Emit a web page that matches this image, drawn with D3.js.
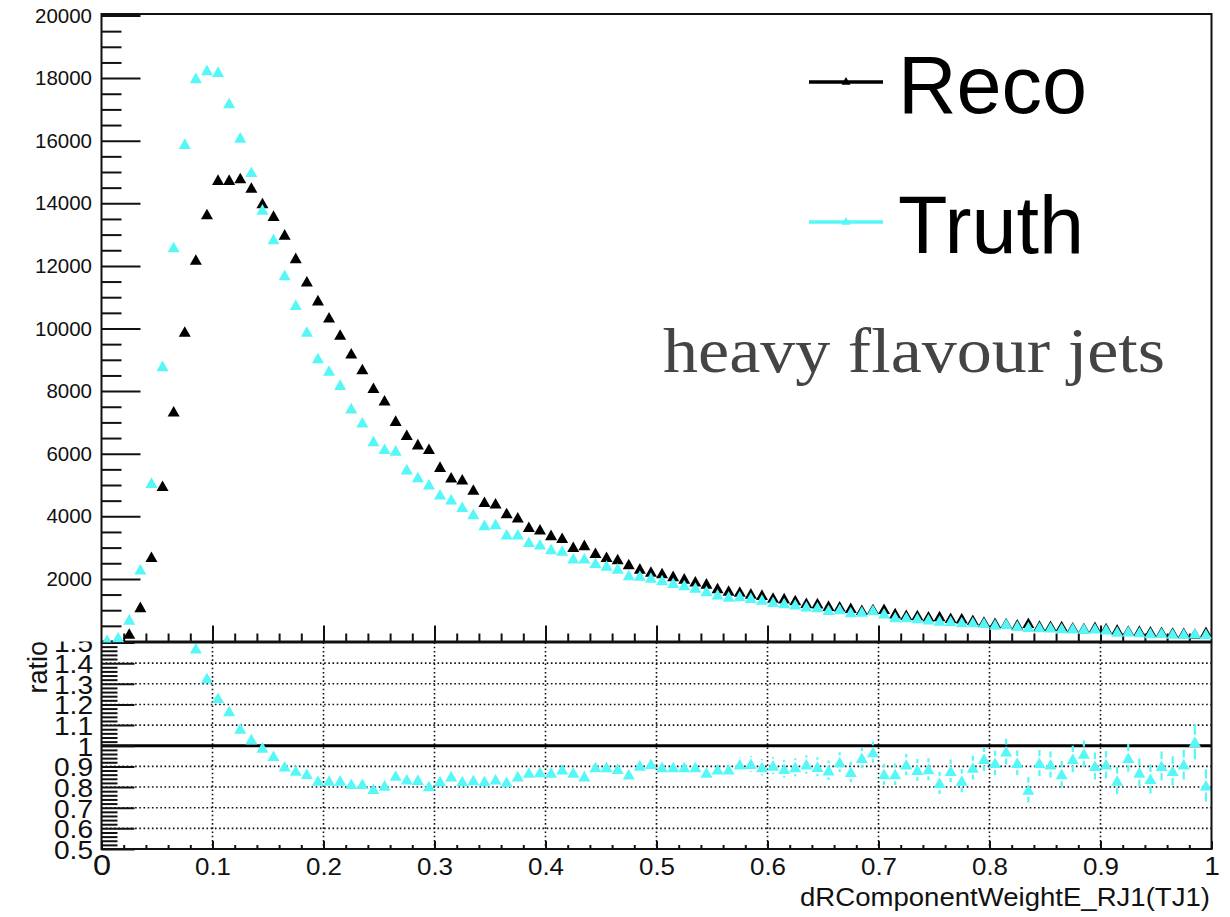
<!DOCTYPE html>
<html>
<head>
<meta charset="utf-8">
<script src="https://cdn.jsdelivr.net/npm/d3@7"></script>
<style>
  body { margin: 0; background: #fff; }
  svg { display: block; }
  .sans { font-family: "Liberation Sans", Arial, Helvetica, sans-serif; }
  .serif { font-family: "Liberation Serif", "Times New Roman", serif; }
</style>
</head>
<body>
<svg id="chart" width="1230" height="917"></svg>
<script>
// Histogram binning of dRComponentWeightE_RJ1(TJ1)
const nBins = 100, xMin = 0, xMax = 1;

// Bin contents, Reco jets
const reco = [
  10, 40, 250, 1100, 2700, 4970, 7350, 9900, 12200, 13650,
  14750, 14750, 14800, 14500, 14000, 13600, 13000, 12250, 11500, 10900,
  10350, 9800, 9200, 8700, 8100, 7700, 7050, 6600, 6300, 6150,
  5580, 5240, 5180, 4850, 4460, 4410, 4100, 3960, 3660, 3580,
  3400, 3310, 3020, 3080, 2830, 2700, 2630, 2470, 2330, 2230,
  2180, 2090, 2010, 1920, 1850, 1700, 1620, 1590, 1530, 1490,
  1400, 1380, 1320, 1230, 1220, 1140, 1120, 1070, 1010, 1030,
  1040, 900, 850, 840, 800, 810, 750, 740, 690, 630,
  590, 580, 540, 590, 500, 495, 490, 450, 425, 460,
  420, 380, 345, 340, 320, 300, 280, 270, 250, 300
];

// Bin contents, Truth jets
const truth = [
  50, 130, 700, 2300, 5070, 8800, 12600, 15900, 18000, 18250,
  18200, 17200, 16100, 15000, 13800, 12850, 11700, 10750, 9900, 9050,
  8650, 8200, 7450, 7000, 6400, 6150, 6100, 5500, 5250, 5020,
  4700, 4540, 4300, 4070, 3720, 3750, 3420, 3420, 3180, 3100,
  2950, 2900, 2650, 2650, 2510, 2420, 2330, 2120, 2100, 2035,
  1960, 1870, 1800, 1720, 1610, 1505, 1435, 1445, 1395, 1335,
  1265, 1225, 1183, 1118, 1095, 1005, 1030, 934, 950, 998,
  896, 776, 773, 742, 709, 664, 659, 615, 617, 590,
  541, 564, 495, 464, 459, 450, 422, 421, 408, 415,
  382, 316, 325, 296, 268, 271, 246, 245, 255, 242
];

// Truth / Reco per bin (first bins lie above the ratio window)
const ratio = [
  5.0, 3.25, 2.8, 2.09, 1.88, 1.77, 1.71, 1.61, 1.471, 1.327,
  1.231, 1.167, 1.083, 1.031, 0.991, 0.951, 0.900, 0.879, 0.863, 0.831,
  0.831, 0.831, 0.815, 0.815, 0.791, 0.807, 0.855, 0.837, 0.835, 0.804,
  0.828, 0.852, 0.828, 0.833, 0.828, 0.837, 0.825, 0.852, 0.869, 0.872,
  0.869, 0.885, 0.869, 0.852, 0.896, 0.896, 0.888, 0.861, 0.904, 0.912,
  0.896, 0.896, 0.896, 0.896, 0.869, 0.885, 0.885, 0.909, 0.912, 0.896,
  0.904, 0.888, 0.896, 0.909, 0.898, 0.881, 0.920, 0.873, 0.941, 0.969,
  0.862, 0.862, 0.909, 0.883, 0.886, 0.820, 0.878, 0.831, 0.894, 0.936,
  0.917, 0.972, 0.917, 0.787, 0.917, 0.909, 0.862, 0.936, 0.961, 0.902,
  0.909, 0.831, 0.941, 0.870, 0.839, 0.902, 0.878, 0.909, 1.019, 0.808
];

// Statistical uncertainty on the ratio
const ratioErr = [
  0.01, 0.01, 0.01, 0.01, 0.01, 0.01, 0.01, 0.01, 0.01, 0.01,
  0.01, 0.01, 0.01, 0.01, 0.01, 0.01, 0.01, 0.01, 0.01, 0.012,
  0.012, 0.012, 0.012, 0.013, 0.013, 0.013, 0.014, 0.014, 0.015, 0.015,
  0.016, 0.016, 0.017, 0.017, 0.018, 0.018, 0.019, 0.019, 0.02, 0.02,
  0.021, 0.021, 0.022, 0.022, 0.023, 0.024, 0.025, 0.026, 0.027, 0.028,
  0.029, 0.03, 0.031, 0.032, 0.033, 0.034, 0.035, 0.036, 0.038, 0.04,
  0.041, 0.042, 0.044, 0.045, 0.046, 0.047, 0.048, 0.049, 0.05, 0.051,
  0.051, 0.052, 0.052, 0.053, 0.053, 0.054, 0.055, 0.056, 0.057, 0.058,
  0.059, 0.062, 0.06, 0.062, 0.063, 0.063, 0.064, 0.064, 0.065, 0.065,
  0.066, 0.066, 0.067, 0.068, 0.07, 0.07, 0.071, 0.072, 0.085, 0.078
];

const seriesNames = ["Reco", "Truth"];
const seriesColors = ["#000000", "#55f7f7"];

// Axis ticks
const mainYMajor = [2000, 4000, 6000, 8000, 10000, 12000, 14000, 16000, 18000, 20000];
const ratioYMajor = [0.5, 0.6, 0.7, 0.8, 0.9, 1, 1.1, 1.2, 1.3, 1.4, 1.5];
const ratioGrid = [0.6, 0.7, 0.8, 0.9, 1.1, 1.2, 1.3, 1.4];
const xMajor = [0, 0.1, 0.2, 0.3, 0.4, 0.5, 0.6, 0.7, 0.8, 0.9, 1];
const xGrid = [0.1, 0.2, 0.3, 0.4, 0.5, 0.6, 0.7, 0.8, 0.9];
const xTickLabels = ["0", "0.1", "0.2", "0.3", "0.4", "0.5", "0.6", "0.7", "0.8", "0.9", "1"];
const xTitle = "dRComponentWeightE_RJ1(TJ1)";
const yRatioTitle = "ratio";
const annotation = "heavy flavour jets";

// ---------------------------------------------------------------
const svg = d3.select("#chart");
const L = 101.5, R = 1211.5;
const mainTop = 15.5, mainBottom = 641.5;
const ratTop = 642.5, ratBottom = 849;

const x = d3.scaleLinear().domain([xMin, xMax]).range([L, R]);
const yMain = d3.scaleLinear().domain([0, 20000]).range([mainBottom, mainTop]);
const yRat = d3.scaleLinear().domain([0.5, 1.5]).range([ratBottom, ratTop]);

const centers = d3.range(nBins).map(i => xMin + (i + 0.5) * (xMax - xMin) / nBins);

// filled up-triangle marker, centred on its box
const triangle = {
  draw(ctx, size) {
    const w = Math.sqrt(size);
    const h = w * 0.88;
    ctx.moveTo(0, -h * 0.52);
    ctx.lineTo(w / 2, h * 0.48);
    ctx.lineTo(-w / 2, h * 0.48);
    ctx.closePath();
  }
};
const marker = d3.symbol().type(triangle).size(12 * 12);
const legendMarker = d3.symbol().type(triangle).size(9 * 9);

const defs = svg.append("defs");
defs.append("clipPath").attr("id", "clipMain")
  .append("rect").attr("x", L).attr("y", 13).attr("width", R - L).attr("height", mainBottom + 1 - 13);
defs.append("clipPath").attr("id", "clipRatio")
  .append("rect").attr("x", L).attr("y", ratTop).attr("width", R - L).attr("height", ratBottom - ratTop);

const axisColor = "#111";

function styleAxis(g) {
  g.attr("font-family", null).attr("font-size", null).attr("class", "sans");
  g.select(".domain").remove();
  g.selectAll(".tick line").attr("stroke", axisColor).attr("stroke-width", 2);
}

// ===================== Ratio pad =====================
const rp = svg.append("g").attr("class", "ratio-pad sans");

// dotted grid
rp.append("g").selectAll("line").data(ratioGrid).join("line")
  .attr("x1", L).attr("x2", R)
  .attr("y1", d => yRat(d)).attr("y2", d => yRat(d))
  .attr("stroke", "#111").attr("stroke-width", 1.6).attr("stroke-dasharray", "1.6 2.6");
rp.append("g").selectAll("line").data(xGrid).join("line")
  .attr("x1", d => x(d)).attr("x2", d => x(d))
  .attr("y1", ratTop).attr("y2", ratBottom)
  .attr("stroke", "#111").attr("stroke-width", 1.6).attr("stroke-dasharray", "1.6 2.6");

// unity line
rp.append("line")
  .attr("x1", L).attr("x2", R).attr("y1", yRat(1)).attr("y2", yRat(1))
  .attr("stroke", "#000").attr("stroke-width", 3);

// ratio points with error bars (gap around marker)
const ratioData = centers.map((c, i) => ({ c, r: ratio[i], e: ratioErr[i] }));
const rpts = rp.append("g").attr("clip-path", "url(#clipRatio)");
const gap = 7;
const errG = rpts.append("g").attr("stroke", seriesColors[1]).attr("stroke-width", 2.2);
ratioData.forEach(d => {
  const cy = yRat(d.r), cx = x(d.c);
  const up = yRat(d.r + d.e), dn = yRat(d.r - d.e);
  if (cy - up > gap) {
    errG.append("line").attr("x1", cx).attr("x2", cx).attr("y1", up).attr("y2", cy - gap);
    errG.append("line").attr("x1", cx).attr("x2", cx).attr("y1", cy + gap).attr("y2", dn);
  }
});
rpts.append("g").selectAll("path").data(ratioData.filter(d => d.r <= 1.52 && d.r >= 0.48)).join("path")
  .attr("d", marker)
  .attr("transform", d => `translate(${x(d.c)},${yRat(d.r)})`)
  .attr("fill", seriesColors[1]);

// ratio axes
const rLeft = rp.append("g").attr("transform", `translate(${L},0)`)
  .call(d3.axisLeft(yRat).tickValues(ratioYMajor).tickSize(-33).tickPadding(8.5)
    .tickFormat(d => d3.format("")(+d.toFixed(1))));
styleAxis(rLeft);
rLeft.selectAll("text")
  .style("font-size", "26px").attr("fill", "#111").attr("dy", "0.36em")
  .attr("transform", "translate(-8.5,0) scale(1.08,1) translate(8.5,0)");

const ratioMinor = d3.range(0.52, 1.5, 0.02).filter(v => Math.abs(v * 10 - Math.round(v * 10)) > 1e-6);
const rLeftMinor = rp.append("g").attr("transform", `translate(${L},0)`)
  .call(d3.axisLeft(yRat).tickValues(ratioMinor).tickSize(-16).tickFormat(""));
styleAxis(rLeftMinor);

const rBottom = rp.append("g").attr("transform", `translate(0,${ratBottom})`)
  .call(d3.axisBottom(x).tickValues(xMajor).tickSize(-8).tickFormat((d, i) => xTickLabels[i]));
styleAxis(rBottom);
rBottom.selectAll("text")
  .attr("dy", null).attr("y", 26).attr("fill", "#111")
  .style("font-size", (d, i) => (i === 0 ? 30 : (i === xMajor.length - 1 ? 26 : 24)) + "px")
  .attr("transform", "scale(1.08,1)");

const xMinor = d3.range(0.02, 1, 0.02).filter(v => Math.abs(v * 10 - Math.round(v * 10)) > 1e-6);
const rBottomMinor = rp.append("g").attr("transform", `translate(0,${ratBottom})`)
  .call(d3.axisBottom(x).tickValues(xMinor).tickSize(-4).tickFormat(""));
styleAxis(rBottomMinor);

// ratio frame
rp.append("rect").attr("x", L).attr("y", ratTop).attr("width", R - L).attr("height", ratBottom - ratTop)
  .attr("fill", "none").attr("stroke", axisColor).attr("stroke-width", 2);

// titles
rp.append("text")
  .attr("transform", `translate(47,641) rotate(-90)`)
  .attr("text-anchor", "end").style("font-size", "27px").attr("fill", "#111")
  .text(yRatioTitle);

rp.append("text")
  .attr("x", 1210).attr("y", 906).attr("text-anchor", "end")
  .style("font-size", "26px").attr("fill", "#111")
  .attr("textLength", 410).attr("lengthAdjust", "spacingAndGlyphs")
  .text(xTitle);

// ===================== Main pad =====================
const mp = svg.append("g").attr("class", "main-pad sans");
mp.append("rect").attr("x", 0).attr("y", 0).attr("width", 1230).attr("height", mainBottom).attr("fill", "#fff");

const mLeft = mp.append("g").attr("transform", `translate(${L},0)`)
  .call(d3.axisLeft(yMain).tickValues(mainYMajor).tickSize(-39).tickPadding(9.5).tickFormat(d3.format("d")));
styleAxis(mLeft);
mLeft.selectAll("text").style("font-size", "20.5px").attr("fill", "#111");

const mainMinor = d3.range(500, 20000, 500).filter(v => v % 2000 !== 0);
const mLeftMinor = mp.append("g").attr("transform", `translate(${L},0)`)
  .call(d3.axisLeft(yMain).tickValues(mainMinor).tickSize(-20).tickFormat(""));
styleAxis(mLeftMinor);

const mBottom = mp.append("g").attr("transform", `translate(0,${mainBottom})`)
  .call(d3.axisBottom(x).tickValues(xMajor.slice(1, -1)).tickSize(-16).tickFormat(""));
styleAxis(mBottom);
const mBottomMinor = mp.append("g").attr("transform", `translate(0,${mainBottom})`)
  .call(d3.axisBottom(x).tickValues(xMinor).tickSize(-8).tickFormat(""));
styleAxis(mBottomMinor);

// frame
mp.append("path")
  .attr("d", `M${L},${mainBottom} L${L},14 L${R},14 L${R},${mainBottom} Z`)
  .attr("fill", "none").attr("stroke", axisColor).attr("stroke-width", 2);

// data markers
const mpts = mp.append("g").attr("clip-path", "url(#clipMain)");
[reco, truth].forEach((vals, s) => {
  mpts.append("g").selectAll("path").data(centers.map((c, i) => ({ c, v: vals[i] }))).join("path")
    .attr("d", marker)
    .attr("transform", d => `translate(${x(d.c)},${yMain(d.v)})`)
    .attr("fill", seriesColors[s]);
});

// legend
const legendY = [82, 222];
const legendBase = [113, 253];
seriesNames.forEach((name, s) => {
  const g = mp.append("g");
  g.append("line").attr("x1", 809).attr("x2", 883)
    .attr("y1", legendY[s]).attr("y2", legendY[s])
    .attr("stroke", seriesColors[s]).attr("stroke-width", 3.5);
  g.append("path").attr("d", legendMarker)
    .attr("transform", `translate(846,${legendY[s] - 1})`)
    .attr("fill", seriesColors[s]);
  g.append("text").attr("x", 898).attr("y", legendBase[s])
    .style("font-size", "81px").attr("fill", "#000").text(name);
});

// annotation
mp.append("text")
  .attr("class", "serif")
  .attr("x", 663).attr("y", 372)
  .style("font-size", "64px").attr("fill", "#444")
  .attr("textLength", 502).attr("lengthAdjust", "spacingAndGlyphs")
  .text(annotation);
</script>
</body>
</html>
